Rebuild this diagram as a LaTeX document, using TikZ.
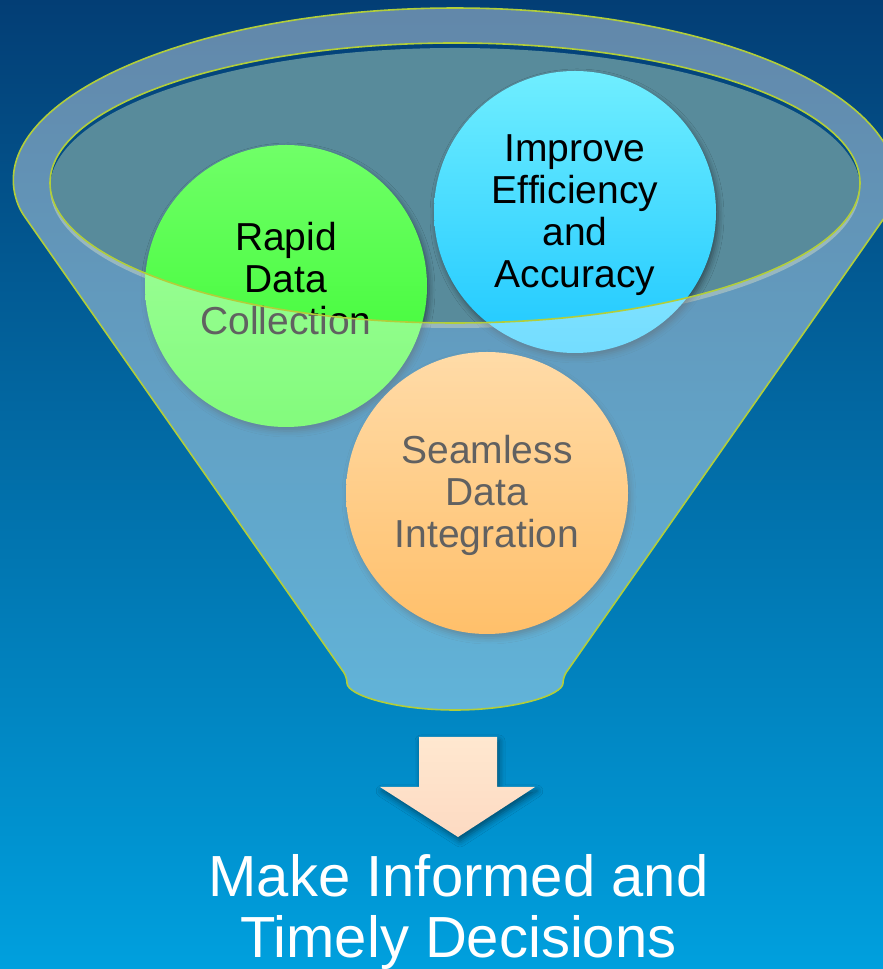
\documentclass[tikz,border=0pt]{standalone}
\usepackage{fontspec}
\setmainfont{Liberation Sans}
\usetikzlibrary{shadows.blur}
\definecolor{bgtop}{RGB}{3,62,117}
\definecolor{bgbot}{RGB}{0,160,222}
\definecolor{rimline}{RGB}{178,206,58}
\definecolor{innerfill}{RGB}{88,139,155}
\definecolor{greentop}{RGB}{112,255,104}
\definecolor{greenbot}{RGB}{55,250,45}
\definecolor{cyantop}{RGB}{112,238,255}
\definecolor{cyanbot}{RGB}{30,200,255}
\definecolor{orangetop}{RGB}{255,198,115}
\definecolor{orangebot}{RGB}{255,153,15}
\definecolor{arrowtop}{RGB}{255,232,208}
\definecolor{arrowbot}{RGB}{253,218,194}
\begin{document}
\begin{tikzpicture}[x=1pt,y=1pt,
  softshadow/.style={blur shadow={shadow xshift=2pt, shadow yshift=-4pt, shadow blur radius=6pt, shadow opacity=45}},
  bubble/.style={circle, minimum size=282pt, inner sep=0pt, softshadow},
  bubbletext/.style={align=center, inner sep=0pt, text=black, font=\fontsize{39}{41.8}\selectfont},
  rim/.style={draw=rimline, line width=1.6pt, rounded corners=6pt},
]
\clip (0,0) rectangle (883,969);
% background
\shade[top color=bgtop, bottom color=bgbot] (0,0) rectangle (883,969);
% inside of the funnel mouth
\fill[innerfill] (455,781) ellipse [x radius=405, y radius=140];
% circles
\node[bubble, top color=greentop, bottom color=greenbot] (g) at (286,683) {};
\node[bubble, top color=cyantop, bottom color=cyanbot] (c) at (575,757) {};
\node[bubble, top color=orangetop, bottom color=orangebot] (o) at (487,476) {};
\node[bubbletext] (gt) at ([yshift=7.5pt]g.center) {Rapid\\Data\\Collection};
\node[bubbletext] (ct) at ([yshift=-3pt]c.center) {Improve\\Efficiency\\and\\Accuracy};
\node[bubbletext] (ot) at ([yshift=-2.5pt]o.center) {Seamless\\Data\\Integration};
% translucent front of the funnel
\fill[white, fill opacity=0.38, even odd rule, rounded corners=6pt]
  (20.7,758) arc[start angle=189.2, end angle=-8.9, x radius=440, y radius=175]
  -- (563,292) arc[start angle=0, end angle=-180, x radius=108, y radius=33]
  -- cycle
  (455,786) ellipse [x radius=405, y radius=140];
% outlines
\path[rim]
  (20.7,758) arc[start angle=189.2, end angle=-8.9, x radius=440, y radius=175]
  -- (563,292) arc[start angle=0, end angle=-180, x radius=108, y radius=33]
  -- cycle;
\path[rim] (455,786) ellipse [x radius=405, y radius=140];
% block arrow
\path[top color=arrowtop, bottom color=arrowbot, softshadow]
  (419,232) -- (497,232) -- (497,182) -- (535,182) -- (458,132) -- (380,182) -- (419,182) -- cycle;
% result text
\node[align=center, inner sep=0pt, text=white, font=\fontsize{58}{61}\selectfont] (goal) at (458.5,57) {Make Informed and\\Timely Decisions};
\end{tikzpicture}
\end{document}
